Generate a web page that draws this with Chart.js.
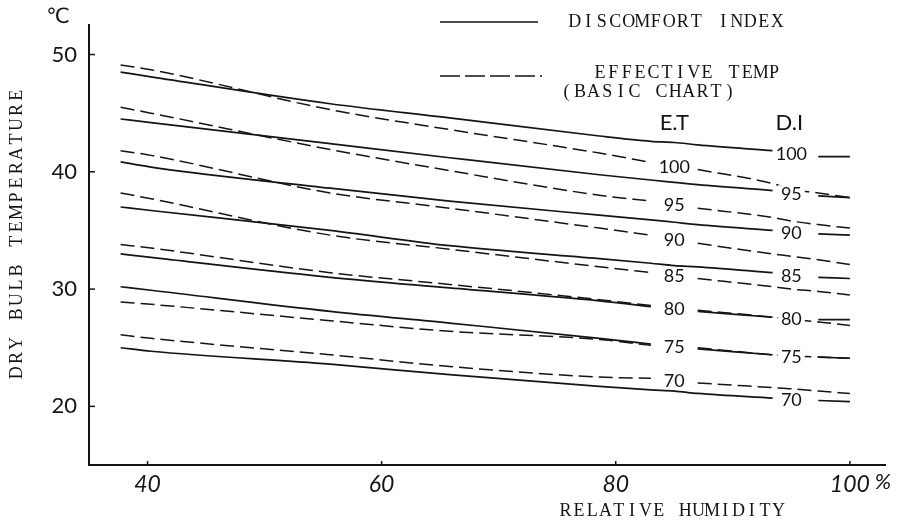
<!DOCTYPE html>
<html>
<head>
<meta charset="utf-8">
<script src="https://cdn.jsdelivr.net/npm/chart.js@4.4.1/dist/chart.umd.min.js"></script>
<style>
  body { margin: 0; background: #fff; }
  #wrap { width: 899px; height: 523px; }
</style>
</head>
<body>
<div id="wrap"><canvas id="chart" width="899" height="523"></canvas></div>
<script>
// relative humidity (%) sample points, shared by all curves
const humidity = [37.7, 40.3, 55.6, 65.8, 78.6, 83, 85, 87, 93.4, 95, 97.3, 100];
const levels = [100, 95, 90, 85, 80, 75, 70];
const xTicks = [40, 60, 80, 100];
const yTicks = [20, 30, 40, 50];

// discomfort index curves (solid), dry bulb temp in degC, null = label gap
const di100 = [48.5, 48.1, 45.8, 44.6, 43.05, 42.6, 42.5, 42.3, 41.8, null, 41.3, 41.3];
const di95  = [44.5, 44.2, 42.4, 41.2, 39.75, 39.3, 39.1, 38.9, 38.4, null, 37.95, 37.8];
const di90  = [40.85, 40.4, 38.6, 37.5, 36.3, 35.9, 35.7, 35.5, 35.0, null, 34.7, 34.6];
const di85  = [37.0, 36.7, 35.0, 33.7, 32.6, 32.2, 32.0, 31.9, 31.4, null, 31.0, 30.9];
const di80  = [33.0, 32.7, 31.0, 30.1, 29.0, 28.5, null, 28.1, 27.6, null, 27.4, 27.4];
const di75  = [30.2, 29.9, 28.1, 27.1, 25.8, 25.3, null, 24.9, 24.4, null, 24.2, 24.1];
const di70  = [25.0, 24.7, 23.6, 22.7, 21.7, 21.4, 21.3, 21.1, 20.7, null, 20.5, 20.4];

// effective temperature curves (dashed, basic chart)
const et100 = [49.1, 48.7, 45.3, 43.6, 41.6, 40.8, null, 40.2, 39.0, 38.5, 38.2, 37.8];
const et95  = [45.5, 45.0, 41.9, 40.1, 38.0, 37.5, null, 36.9, 36.1, 35.8, 35.5, 35.2];
const et90  = [41.8, 41.4, 38.2, 36.9, 35.2, 34.6, null, 33.9, 33.0, 32.8, 32.5, 32.1];
const et85  = [38.2, 37.7, 34.6, 33.4, 31.9, 31.4, null, 30.9, 30.2, 30.0, 29.8, 29.5];
const et80  = [33.8, 33.5, 31.4, 30.4, 29.1, 28.6, null, 28.2, 27.6, 27.4, 27.2, 26.9];
const et75  = [28.9, 28.7, 27.3, 26.4, 25.7, 25.2, null, 25.0, 24.4, 24.3, 24.2, 24.1];
const et70  = [26.1, 25.8, 24.4, 23.4, 22.5, 22.4, null, 22.0, 21.6, 21.5, 21.3, 21.1];

const diSeries = [di100, di95, di90, di85, di80, di75, di70];
const etSeries = [et100, et95, et90, et85, et80, et75, et70];
const ET_LABEL_AT = 85;
const DI_LABEL_AT = 95;

const INK = '#141414';
const TYPE = '"Liberation Serif", "DejaVu Serif", serif';

function toPoints(vals) {
    return humidity.map((h, i) => ({ x: h, y: vals[i] }));
}

const datasets = [];
diSeries.forEach((s, i) => {
    datasets.push({
        label: 'DI ' + levels[i], kind: 'di', level: levels[i],
        data: toPoints(s), borderColor: INK, borderWidth: 1.7,
        pointRadius: 0, spanGaps: false, cubicInterpolationMode: 'monotone'
    });
});
etSeries.forEach((s, i) => {
    datasets.push({
        label: 'ET ' + levels[i], kind: 'et', level: levels[i],
        data: toPoints(s), borderColor: INK, borderWidth: 1.5, borderDash: [14, 6],
        pointRadius: 0, spanGaps: false, cubicInterpolationMode: 'monotone'
    });
});

function spaced(ctx, text, cx, cy, adv) {
    const n = text.length;
    const x0 = cx - adv * (n - 1) / 2;
    for (let i = 0; i < n; i++) {
        ctx.fillText(text[i], x0 + i * adv, cy);
    }
}

const decor = {
    id: 'decor',
    afterDraw(chart) {
        const ctx = chart.ctx;
        const xs = chart.scales.x, ys = chart.scales.y;
        const area = chart.chartArea;
        ctx.save();
        ctx.strokeStyle = INK;
        ctx.fillStyle = INK;

        // small inward tick marks
        ctx.lineWidth = 1.5;
        yTicks.forEach(v => {
            const py = ys.getPixelForValue(v);
            ctx.beginPath(); ctx.moveTo(area.left, py); ctx.lineTo(area.left + 6, py); ctx.stroke();
        });
        xTicks.forEach(v => {
            const px = xs.getPixelForValue(v);
            ctx.beginPath(); ctx.moveTo(px, area.bottom); ctx.lineTo(px, area.bottom - 4); ctx.stroke();
        });

        // curve labels sitting in the gaps
        ctx.font = '18px Lato';
        ctx.textAlign = 'center';
        ctx.textBaseline = 'middle';
        chart.data.datasets.forEach(ds => {
            const at = ds.kind === 'et' ? ET_LABEL_AT : DI_LABEL_AT;
            const i = humidity.indexOf(at);
            const a = ds.data[i - 1].y, b = ds.data[i + 1].y;
            const px = xs.getPixelForValue(at);
            const py = ys.getPixelForValue((a + b) / 2);
            const txt = String(ds.level);
            const w = ctx.measureText(txt).width;
            ctx.fillStyle = '#fff';
            ctx.fillRect(px - w / 2 - 3, py - 8, w + 6, 16);
            ctx.fillStyle = INK;
            ctx.fillText(txt, px, py + 1);
        });

        // column heads
        ctx.font = '22px Lato';
        ctx.fillText('E.T', xs.getPixelForValue(ET_LABEL_AT), 123);
        ctx.fillText('D.I', xs.getPixelForValue(DI_LABEL_AT) - 2, 123);

        // legend
        ctx.lineWidth = 1.5;
        ctx.beginPath(); ctx.moveTo(440, 22); ctx.lineTo(538, 22); ctx.stroke();
        ctx.setLineDash([20, 5]);
        ctx.beginPath(); ctx.moveTo(440, 76); ctx.lineTo(542, 76); ctx.stroke();
        ctx.setLineDash([]);
        ctx.font = '18px ' + TYPE;
        spaced(ctx, 'DISCOMFORT INDEX', 676, 22, 13.5);
        spaced(ctx, 'EFFECTIVE TEMP', 687, 73, 13.4);
        spaced(ctx, '(BASIC CHART)', 648, 92, 13.6);

        // axis titles
        spaced(ctx, 'RELATIVE HUMIDITY', 672, 511, 13.3);
        ctx.save();
        ctx.translate(17, 234);
        ctx.rotate(-Math.PI / 2);
        spaced(ctx, 'DRY BULB TEMPERATURE', 0, 0, 14.6);
        ctx.restore();

        // units
        ctx.font = '21px "DejaVu Sans"';
        ctx.fillText('℃', 58, 18);
        ctx.font = 'italic 22px Lato';
        ctx.fillText('%', xs.getPixelForValue(100) + 33, 482);
        ctx.restore();
    }
};

new Chart(document.getElementById('chart'), {
    type: 'line',
    data: { datasets: datasets },
    options: {
        responsive: false,
        animation: false,
        layout: { padding: { top: 23, right: 14, left: 0, bottom: 0 } },
        plugins: { legend: { display: false }, tooltip: { enabled: false } },
        scales: {
            x: {
                type: 'linear', min: 35, max: 103,
                afterBuildTicks: s => { s.ticks = xTicks.map(v => ({ value: v })); },
                afterFit: s => { s.height = 58; },
                grid: { display: false, drawTicks: false },
                border: { color: INK, width: 2 },
                ticks: { color: INK, padding: 6, font: { family: 'Lato', size: 23, style: 'italic' } }
            },
            y: {
                min: 15, max: 52.5,
                afterBuildTicks: s => { s.ticks = yTicks.map(v => ({ value: v })); },
                afterFit: s => { s.width = 89; },
                grid: { display: false, drawTicks: false },
                border: { color: INK, width: 2 },
                ticks: { color: INK, padding: 12, font: { family: 'Lato', size: 22 } }
            }
        }
    },
    plugins: [decor]
});
</script>
</body>
</html>
